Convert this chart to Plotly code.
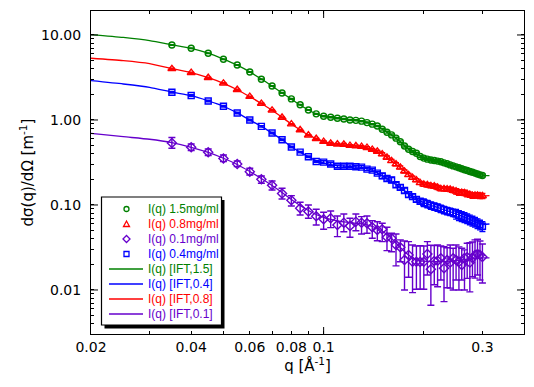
import plotly.graph_objects as go

# ---------------- data ----------------
q_data = [0.035, 0.04, 0.045, 0.05, 0.055, 0.06, 0.065, 0.07, 0.075, 0.08,
          0.085, 0.09, 0.095, 0.1, 0.105, 0.11, 0.115, 0.12, 0.125, 0.13,
          0.135, 0.14, 0.145, 0.15, 0.155, 0.16, 0.165, 0.17, 0.175, 0.18,
          0.185, 0.19, 0.195, 0.2, 0.205, 0.21, 0.215, 0.22, 0.225, 0.23,
          0.235, 0.24, 0.245, 0.25, 0.255, 0.26, 0.265, 0.27, 0.275, 0.28,
          0.285, 0.29, 0.295, 0.3]

I_15 = [7.63, 6.98, 6.09, 5.18, 4.44, 3.67, 3.01, 2.51, 2.08, 1.77,
        1.51, 1.31, 1.18, 1.105, 1.076, 1.047, 1.028, 1.0, 0.99, 0.968,
        0.931, 0.893, 0.85, 0.778, 0.718, 0.667, 0.611, 0.554, 0.494, 0.453,
        0.425, 0.406, 0.372, 0.356, 0.346, 0.338, 0.333, 0.328, 0.322, 0.313,
        0.305, 0.296, 0.288, 0.281, 0.274, 0.267, 0.26, 0.254, 0.248, 0.2425,
        0.237, 0.2317, 0.226, 0.222]

I_08 = [4.0, 3.6, 3.14, 2.70, 2.27, 1.88, 1.56, 1.30, 1.07, 0.893,
        0.763, 0.662, 0.601, 0.556, 0.529, 0.518, 0.515, 0.5, 0.494, 0.486,
        0.472, 0.449, 0.426, 0.396, 0.362, 0.33, 0.302, 0.277, 0.249, 0.226,
        0.21, 0.196, 0.182, 0.175, 0.172, 0.168, 0.166, 0.161, 0.155, 0.155,
        0.153, 0.152, 0.148, 0.145, 0.140, 0.140, 0.139, 0.1346, 0.1324, 0.129,
        0.1294, 0.130, 0.1276, 0.1276]

I_04 = [2.12, 1.94, 1.67, 1.45, 1.21, 1.0, 0.841, 0.703, 0.585, 0.481,
        0.418, 0.369, 0.325, 0.319, 0.303, 0.285, 0.285, 0.285, 0.282, 0.279,
        0.264, 0.257, 0.237, 0.22, 0.205, 0.197, 0.173, 0.161, 0.148, 0.1325,
        0.1255, 0.1163, 0.1106, 0.1067, 0.103, 0.0989, 0.096, 0.0935, 0.0902, 0.0875,
        0.0852, 0.0832, 0.0812, 0.0783, 0.0756, 0.0736, 0.0716, 0.0693, 0.0673, 0.0651,
        0.063, 0.0608, 0.0585, 0.0561]

I_01 = [0.5364, 0.4774, 0.4169, 0.3524, 0.3037, 0.2465, 0.2006, 0.1705, 0.1366, 0.1136,
        0.0915, 0.0839, 0.0737, 0.0679, 0.0697, 0.0582, 0.0619, 0.0566, 0.0636, 0.0619,
        0.0609, 0.0546, 0.0508, 0.0518, 0.0417, 0.0406, 0.0338, 0.0318, 0.0225, 0.0258,
        0.0215, 0.0215, 0.0214, 0.0215, 0.0265, 0.0175, 0.0219, 0.0221, 0.0236, 0.0180,
        0.0225, 0.0210, 0.0236, 0.0225, 0.0214, 0.0197, 0.0238, 0.0243, 0.0210, 0.0238,
        0.0258, 0.0265, 0.0258, 0.0244]
I_01_hi = [0.6223, 0.5220, 0.4559, 0.3876, 0.3294, 0.2703, 0.2194, 0.1915, 0.1572, 0.1287,
           0.1076, 0.1, 0.0890, 0.0820, 0.0850, 0.0742, 0.0783, 0.0697, 0.0783, 0.0729,
           0.0742, 0.0654, 0.0636, 0.0609, 0.0546, 0.0465, 0.0456, 0.0388, 0.0377, 0.0370,
           0.0338, 0.0329, 0.0332, 0.0329, 0.0370, 0.0336, 0.0332, 0.0338, 0.0329, 0.0323,
           0.0314, 0.0338, 0.0309, 0.0338, 0.0321, 0.0309, 0.0296, 0.0354, 0.0360, 0.0367,
           0.0388, 0.0395, 0.0377, 0.0348]
I_01_lo = [0.4645, 0.4377, 0.3824, 0.3232, 0.2822, 0.2254, 0.1800, 0.1501, 0.1176, 0.0973,
           0.0763, 0.0697, 0.0582, 0.0518, 0.0541, 0.0424, 0.0485, 0.0417, 0.0498, 0.0456,
           0.0465, 0.0406, 0.0380, 0.0370, 0.0290, 0.0282, 0.0192, 0.0215, 0.0100, 0.0141,
           0.0093, 0.0102, 0.0102, 0.0102, 0.0150, 0.0066, 0.0115, 0.0109, 0.0131, 0.0073,
           0.0106, 0.0105, 0.0100, 0.0131, 0.0100, 0.0131, 0.0100, 0.0137, 0.0095, 0.0143,
           0.0138, 0.0150, 0.0131, 0.0121]

# relative uncertainties of the three concentrated samples
rel_15 = [0.01, 0.01, 0.01, 0.01, 0.01, 0.01, 0.01, 0.01, 0.01, 0.01,
          0.01, 0.01, 0.01, 0.015, 0.015, 0.015, 0.015, 0.015, 0.015, 0.015,
          0.015, 0.015, 0.015, 0.025, 0.025, 0.025, 0.025, 0.025, 0.025, 0.025,
          0.025, 0.025, 0.025, 0.03, 0.03, 0.03, 0.03, 0.03, 0.03, 0.03,
          0.03, 0.03, 0.03, 0.04, 0.04, 0.04, 0.04, 0.04, 0.04, 0.04,
          0.04, 0.04, 0.04, 0.04]
rel_08 = [0.015, 0.015, 0.015, 0.015, 0.015, 0.015, 0.015, 0.015, 0.015, 0.015,
          0.015, 0.015, 0.015, 0.025, 0.025, 0.025, 0.025, 0.025, 0.025, 0.025,
          0.025, 0.025, 0.025, 0.04, 0.04, 0.04, 0.04, 0.04, 0.04, 0.04,
          0.04, 0.04, 0.04, 0.055, 0.055, 0.055, 0.055, 0.055, 0.055, 0.055,
          0.055, 0.055, 0.055, 0.07, 0.07, 0.07, 0.07, 0.07, 0.07, 0.07,
          0.07, 0.07, 0.07, 0.07]
rel_04 = [0.02, 0.02, 0.02, 0.02, 0.02, 0.02, 0.02, 0.02, 0.02, 0.02,
          0.02, 0.02, 0.02, 0.04, 0.04, 0.04, 0.04, 0.04, 0.04, 0.04,
          0.04, 0.04, 0.04, 0.07, 0.07, 0.07, 0.07, 0.07, 0.07, 0.07,
          0.07, 0.07, 0.07, 0.10, 0.10, 0.10, 0.10, 0.10, 0.10, 0.10,
          0.10, 0.10, 0.10, 0.13, 0.13, 0.13, 0.13, 0.13, 0.13, 0.13,
          0.13, 0.13, 0.13, 0.13]

# IFT fits
q_fit = [0.02, 0.025, 0.03, 0.035, 0.04, 0.045, 0.05, 0.055, 0.06, 0.065,
         0.07, 0.075, 0.08, 0.085, 0.09, 0.095, 0.1, 0.105, 0.11, 0.115,
         0.12, 0.125, 0.13, 0.135, 0.14, 0.145, 0.15, 0.155, 0.16, 0.165,
         0.17, 0.175, 0.18, 0.185, 0.19, 0.195, 0.2, 0.21, 0.22, 0.23,
         0.24, 0.25, 0.26, 0.27, 0.28, 0.29, 0.3, 0.315]
fit_15 = [10.1, 9.35, 8.6, 7.68, 6.95, 6.1, 5.2, 4.42, 3.68, 3.03,
          2.5, 2.08, 1.76, 1.5, 1.31, 1.18, 1.105, 1.07, 1.045, 1.025,
          1.005, 0.99, 0.968, 0.935, 0.893, 0.845, 0.783, 0.72, 0.665, 0.61,
          0.553, 0.5, 0.455, 0.424, 0.402, 0.378, 0.358, 0.338, 0.327, 0.313,
          0.296, 0.281, 0.267, 0.254, 0.243, 0.232, 0.223, 0.221]
fit_08 = [5.32, 4.99, 4.6, 4.02, 3.6, 3.14, 2.7, 2.27, 1.88, 1.56,
          1.3, 1.075, 0.895, 0.765, 0.665, 0.603, 0.558, 0.531, 0.518, 0.51,
          0.502, 0.494, 0.485, 0.471, 0.45, 0.425, 0.396, 0.363, 0.331, 0.302,
          0.276, 0.25, 0.227, 0.21, 0.196, 0.184, 0.176, 0.168, 0.161, 0.155,
          0.15, 0.145, 0.14, 0.135, 0.131, 0.1285, 0.1278, 0.1285]
fit_04 = [2.9, 2.65, 2.42, 2.13, 1.93, 1.68, 1.45, 1.21, 1.0, 0.84,
          0.70, 0.585, 0.485, 0.418, 0.368, 0.333, 0.312, 0.298, 0.29, 0.286,
          0.284, 0.281, 0.276, 0.267, 0.255, 0.239, 0.221, 0.204, 0.188, 0.173,
          0.16, 0.147, 0.135, 0.125, 0.117, 0.111, 0.1065, 0.099, 0.0935, 0.0878,
          0.0832, 0.0785, 0.0738, 0.0695, 0.0655, 0.0618, 0.059, 0.0597]
fit_01 = [0.6973, 0.6359, 0.5930, 0.5408, 0.4774, 0.4147, 0.3543, 0.2996, 0.2478, 0.2050,
          0.1696, 0.1403, 0.1161, 0.0986, 0.0862, 0.0773, 0.0713, 0.0675, 0.0648, 0.0631,
          0.0619, 0.0609, 0.0598, 0.0582, 0.0559, 0.0529, 0.0494, 0.0450, 0.0404, 0.0357,
          0.0316, 0.0284, 0.0258, 0.0241, 0.0228, 0.0222, 0.0218, 0.0215, 0.0215, 0.0216,
          0.0218, 0.0221, 0.0225, 0.0230, 0.0233, 0.0236, 0.0238, 0.0238]

x_tickvals = [0.02, 0.03, 0.04, 0.05, 0.06, 0.07, 0.08, 0.09, 0.1, 0.2, 0.3]
x_ticktext = ["0.02", "", "0.04", "", "0.06", "", "0.08", "", "0.1", "", "0.3"]
y_decades = [0.01, 0.1, 1, 10]
y_decade_text = ["0.01", "0.10", "1.00", "10.00"]
y_minor = [0.004, 0.005, 0.006, 0.007, 0.008, 0.009,
           0.02, 0.03, 0.04, 0.05, 0.06, 0.07, 0.08, 0.09,
           0.2, 0.3, 0.4, 0.5, 0.6, 0.7, 0.8, 0.9,
           2, 3, 4, 5, 6, 7, 8, 9]

legend_labels = ["I(q) 1.5mg/ml", "I(q) 0.8mg/ml", "I(q) 0.1mg/ml", "I(q) 0.4mg/ml",
                 "I(q) [IFT,1.5]", "I(q) [IFT,0.4]", "I(q) [IFT,0.8]", "I(q) [IFT,0.1]"]

# ---------------- styles ----------------
GREEN = "#008000"
RED = "#FF0000"
BLUE = "#0000FF"
PURPLE = "#6600CC"
FONT = "DejaVu Sans"
LFONT = "Liberation Sans, Arial"

W, H = 534, 387
ML, MR, MT, MB = 91, 10, 11, 53
PW, PH = W - ML - MR, H - MT - MB


def px(x):
    return (x - ML) / PW


def py(y):
    return (H - MB - y) / PH


fig = go.Figure()

fits = [(fit_15, GREEN), (fit_04, BLUE), (fit_08, RED), (fit_01, PURPLE)]
for ys, c in fits:
    fig.add_trace(go.Scatter(
        x=q_fit, y=ys, mode="lines", showlegend=False,
        line=dict(color=c, width=1.3, shape="spline", smoothing=0.6)))

sets = [
    (I_15, rel_15, GREEN, "circle-open", 6),
    (I_08, rel_08, RED, "triangle-up-open", 7),
    (I_04, rel_04, BLUE, "square-open", 6),
]
for ys, rel, c, sym, sz in sets:
    err = [v * r for v, r in zip(ys, rel)]
    fig.add_trace(go.Scatter(
        x=q_data, y=ys, mode="markers", showlegend=False,
        marker=dict(symbol=sym, size=sz, color=c, line=dict(color=c, width=1.4)),
        error_y=dict(type="data", array=err, symmetric=True, color=c,
                     thickness=1.4, width=3)))

err_hi = [h - v for h, v in zip(I_01_hi, I_01)]
err_lo = [v - l for v, l in zip(I_01, I_01_lo)]
fig.add_trace(go.Scatter(
    x=q_data, y=I_01, mode="markers", showlegend=False,
    marker=dict(symbol="diamond-open", size=7, color=PURPLE, line=dict(color=PURPLE, width=1.4)),
    error_y=dict(type="data", array=err_hi, arrayminus=err_lo, symmetric=False,
                 color=PURPLE, thickness=1.4, width=3.5)))

shapes = []
# long ticks at the decades
for v in y_decades:
    shapes.append(dict(type="line", xref="paper", yref="y", x0=0, x1=7 / PW, y0=v, y1=v,
                       line=dict(color="black", width=1)))
    shapes.append(dict(type="line", xref="paper", yref="y", x0=1, x1=1 - 7 / PW, y0=v, y1=v,
                       line=dict(color="black", width=1)))
shapes.append(dict(type="line", xref="x", yref="paper", x0=0.1, x1=0.1, y0=0, y1=7 / PH,
                   line=dict(color="black", width=1)))
shapes.append(dict(type="line", xref="x", yref="paper", x0=0.1, x1=0.1, y0=1, y1=1 - 7 / PH,
                   line=dict(color="black", width=1)))

# ---- legend box (drawn by hand so the rows keep the original 15 px pitch) ----
LX0, LX1, LY0, LY1 = 101.5, 221.5, 197, 325
shapes.append(dict(type="rect", xref="paper", yref="paper", layer="above",
                   x0=px(LX0 + 3), x1=px(LX1 + 3), y0=py(LY1 + 3.5), y1=py(LY0 + 3),
                   fillcolor="black", line=dict(width=0)))
shapes.append(dict(type="rect", xref="paper", yref="paper", layer="above",
                   x0=px(LX0), x1=px(LX1), y0=py(LY1), y1=py(LY0),
                   fillcolor="white", line=dict(color="black", width=1.2)))

row_y = [209, 224, 239, 254, 269, 284, 299, 314]
row_col = [GREEN, RED, PURPLE, BLUE, GREEN, BLUE, RED, PURPLE]
SX = 126.5
annotations = []
for i, (lab, c, yy) in enumerate(zip(legend_labels, row_col, row_y)):
    annotations.append(dict(xref="paper", yref="paper", x=px(146), y=py(yy),
                            xanchor="left", yanchor="middle", showarrow=False,
                            text=lab, font=dict(family=LFONT, size=12, color=c)))
    if i >= 4:
        shapes.append(dict(type="line", xref="paper", yref="paper", layer="above",
                           x0=px(109), x1=px(143), y0=py(yy), y1=py(yy),
                           line=dict(color=c, width=1.4)))

mk = dict(xref="paper", yref="paper", layer="above", line=dict(width=1.3))
# circle
shapes.append(dict(type="circle", x0=px(SX - 2.5), x1=px(SX + 2.5),
                   y0=py(row_y[0] + 2.5), y1=py(row_y[0] - 2.5),
                   **{**mk, "line": dict(color=GREEN, width=1.3)}))
# triangle


def path(points):
    return "M " + " L ".join("%.5f,%.5f" % (px(a), py(b)) for a, b in points) + " Z"


shapes.append(dict(type="path", path=path([(SX - 3, row_y[1] + 2.5), (SX + 3, row_y[1] + 2.5),
                                           (SX, row_y[1] - 3)]),
                   **{**mk, "line": dict(color=RED, width=1.3)}))
shapes.append(dict(type="path", path=path([(SX - 3.5, row_y[2]), (SX, row_y[2] - 3.5),
                                           (SX + 3.5, row_y[2]), (SX, row_y[2] + 3.5)]),
                   **{**mk, "line": dict(color=PURPLE, width=1.3)}))
shapes.append(dict(type="rect", x0=px(SX - 2.5), x1=px(SX + 2.5),
                   y0=py(row_y[3] + 2.5), y1=py(row_y[3] - 2.5),
                   **{**mk, "line": dict(color=BLUE, width=1.3)}))

fig.update_layout(
    width=W, height=H,
    margin=dict(l=ML, r=MR, t=MT, b=MB),
    paper_bgcolor="white", plot_bgcolor="white",
    showlegend=False,
    shapes=shapes,
    annotations=annotations,
    xaxis=dict(type="log", range=[-1.69897, -0.39794],
               tickvals=x_tickvals, ticktext=x_ticktext, tickangle=0,
               ticks="inside", ticklen=3, tickwidth=1, tickcolor="black",
               showline=True, linecolor="black", linewidth=1, mirror="allticks",
               showgrid=False, zeroline=False,
               tickfont=dict(family=FONT, size=14, color="black"),
               title=dict(text="q [Å<sup>-1</sup>]", standoff=4,
                          font=dict(family=FONT, size=15, color="black"))),
    yaxis=dict(type="log", range=[-2.518, 1.282],
               tickvals=y_decades + y_minor,
               ticktext=y_decade_text + [""] * len(y_minor),
               ticks="inside", ticklen=3, tickwidth=1, tickcolor="black",
               showline=True, linecolor="black", linewidth=1, mirror="allticks",
               showgrid=False, zeroline=False, ticklabelstandoff=6,
               tickfont=dict(family=FONT, size=14, color="black"),
               title=dict(text="dσ(q)/dΩ [m<sup>-1</sup>]", standoff=3,
                          font=dict(family=FONT, size=15, color="black"))),
)

fig.write_html("out.html", config={"displayModeBar": False},
               post_script="document.body.style.margin='0';")
